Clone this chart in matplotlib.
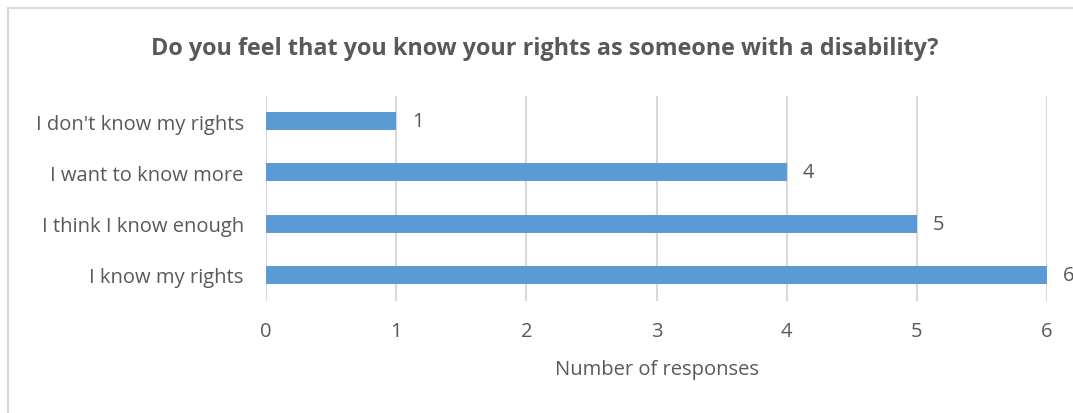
import matplotlib.pyplot as plt
from matplotlib.lines import Line2D

categories = ["I know my rights", "I think I know enough", "I want to know more", "I don't know my rights"]
responses = [6, 5, 4, 1]
x_ticks = [0, 1, 2, 3, 4, 5, 6]

text_color = "#595959"
bar_color = "#5B9BD5"
grid_color = "#D9D9D9"

plt.rcParams["font.family"] = ["Open Sans", "DejaVu Sans"]

fig = plt.figure(figsize=(10.73, 4.14), dpi=100)
ax = fig.add_axes([0.2479, 0.2717, 0.7279, 0.4952])

ax.barh(range(len(categories)), responses, height=0.35, color=bar_color, zorder=3)
for i, v in enumerate(responses):
    ax.text(v + 0.12, i, str(v), va="center", ha="left", fontsize=14.5,
            color=text_color, clip_on=False)

ax.set_xlim(0, 6)
ax.set_ylim(-0.5, 3.5)
ax.set_xticks(x_ticks)
ax.set_xticklabels([str(t) for t in x_ticks])
ax.set_yticks(range(len(categories)))
ax.set_yticklabels(categories)
ax.tick_params(axis="both", length=0, labelsize=14.5, labelcolor=text_color)
ax.tick_params(axis="x", pad=15)
ax.tick_params(axis="y", pad=16)
ax.grid(axis="x", color=grid_color, linewidth=1.5, zorder=0)
for s in ax.spines.values():
    s.set_visible(False)

ax.set_xlabel("Number of responses", fontsize=14.5, color=text_color, labelpad=13)

fig.text(0.508, 0.882, "Do you feel that you know your rights as someone with a disability?",
         ha="center", va="center", fontsize=16.8, fontweight="bold", color=text_color)

# light frame around the chart area
fig.add_artist(Line2D([0.0079, 0.0079], [0, 0.979], transform=fig.transFigure,
                      color=grid_color, linewidth=1.5))
fig.add_artist(Line2D([0.0079, 1.0], [0.979, 0.979], transform=fig.transFigure,
                      color=grid_color, linewidth=1.5))

fig.savefig("out.png", dpi=100, facecolor="white")
